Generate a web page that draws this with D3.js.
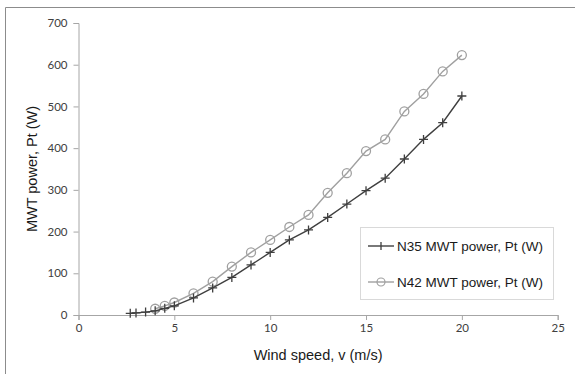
<!DOCTYPE html>
<html>
<head>
<meta charset="utf-8">
<script src="https://cdn.jsdelivr.net/npm/d3@7"></script>
<style>
  body { margin: 0; background: #fff; }
  svg { display: block; }
</style>
</head>
<body>
<div id="chart"></div>
<script>
// wind speed (m/s)
const speedN35 = [2.7, 3, 3.5, 4, 4.5, 5, 6, 7, 8, 9, 10, 11, 12, 13, 14, 15, 16, 17, 18, 19, 20];
const powerN35 = [4, 5, 7, 10, 16, 22, 41, 65, 90, 120, 150, 180, 204, 234, 266, 298, 328, 374, 421, 461, 525];
const speedN42 = [4, 4.5, 5, 6, 7, 8, 9, 10, 11, 12, 13, 14, 15, 16, 17, 18, 19, 20];
const powerN42 = [15, 22, 30, 52, 80, 116, 150, 180, 211, 240, 293, 340, 393, 421, 488, 530, 584, 623];
const xTicks = [0, 5, 10, 15, 20, 25];
const yTicks = [0, 100, 200, 300, 400, 500, 600, 700];
const seriesNames = ['N35 MWT power, Pt (W)', 'N42 MWT power, Pt (W)'];

const width = 575, height = 374;
const margin = {top: 23, right: 17.3, bottom: 59, left: 78.5};

const svg = d3.select('#chart').append('svg')
  .attr('width', width)
  .attr('height', height);

// outer frame (only top/left visible in the picture)
svg.append('path')
  .attr('d', 'M5.5,' + height + 'V7.5H' + width)
  .attr('fill', 'none')
  .attr('stroke', '#8c8c8c')
  .attr('stroke-width', 1);

const x = d3.scaleLinear().domain([0, 25]).range([margin.left, width - margin.right]);
const y = d3.scaleLinear().domain([0, 700]).range([height - margin.bottom, margin.top]);

const xAxis = svg.append('g')
  .attr('transform', 'translate(0,' + y(0) + ')')
  .call(d3.axisBottom(x).tickValues(xTicks).tickSize(5).tickPadding(4));

const yAxis = svg.append('g')
  .attr('transform', 'translate(' + x(0) + ',0)')
  .call(d3.axisLeft(y).tickValues(yTicks).tickSize(5).tickPadding(6));

[xAxis, yAxis].forEach(a => {
  a.selectAll('path, line').attr('stroke', '#a6a6a6');
  a.selectAll('text')
    .attr('fill', '#404040')
    .style('font-family', 'Lato, "Liberation Sans", sans-serif')
    .style('font-size', '11.5px');
});

svg.append('text')
  .attr('x', (x(0) + x(25)) / 2)
  .attr('y', 360)
  .attr('text-anchor', 'middle')
  .attr('fill', '#1a1a1a')
  .style('font-family', '"Liberation Sans", Arial, sans-serif')
  .style('font-size', '14.5px')
  .text('Wind speed, v (m/s)');

svg.append('text')
  .attr('transform', 'translate(37,' + (y(0) + y(700)) / 2 + ') rotate(-90)')
  .attr('text-anchor', 'middle')
  .attr('fill', '#1a1a1a')
  .style('font-family', '"Liberation Sans", Arial, sans-serif')
  .style('font-size', '14.5px')
  .text('MWT power, Pt (W)');

const line = d3.line().x(d => x(d[0])).y(d => y(d[1]));

const n35 = speedN35.map((s, i) => [s, powerN35[i]]);
const n42 = speedN42.map((s, i) => [s, powerN42[i]]);

const darkColor = '#3f3f3f';
const lightColor = '#a0a0a0';

// N42 (circles)
svg.append('path')
  .datum(n42)
  .attr('d', line)
  .attr('fill', 'none')
  .attr('stroke', lightColor)
  .attr('stroke-width', 1.4);

svg.selectAll('.n42')
  .data(n42)
  .enter().append('circle')
  .attr('class', 'n42')
  .attr('cx', d => x(d[0]))
  .attr('cy', d => y(d[1]))
  .attr('r', 4.5)
  .attr('fill', 'none')
  .attr('stroke', lightColor)
  .attr('stroke-width', 1.3);

// N35 (plus)
svg.append('path')
  .datum(n35)
  .attr('d', line)
  .attr('fill', 'none')
  .attr('stroke', darkColor)
  .attr('stroke-width', 1.4);

svg.selectAll('.n35')
  .data(n35)
  .enter().append('path')
  .attr('class', 'n35')
  .attr('transform', d => 'translate(' + x(d[0]) + ',' + y(d[1]) + ')')
  .attr('d', 'M-4.5,0H4.5M0,-4.5V4.5')
  .attr('fill', 'none')
  .attr('stroke', darkColor)
  .attr('stroke-width', 1.3);

// legend
const legend = svg.append('g');
legend.append('rect')
  .attr('x', 360.5).attr('y', 227.5)
  .attr('width', 193).attr('height', 72)
  .attr('fill', '#fff')
  .attr('stroke', '#d9d9d9');

const legendRows = [
  {name: seriesNames[0], color: darkColor, mark: 'plus', yy: 246},
  {name: seriesNames[1], color: lightColor, mark: 'circle', yy: 282}
];
legendRows.forEach(r => {
  legend.append('line')
    .attr('x1', 368).attr('x2', 394)
    .attr('y1', r.yy).attr('y2', r.yy)
    .attr('stroke', r.color).attr('stroke-width', 1.4);
  if (r.mark === 'plus') {
    legend.append('path')
      .attr('d', 'M381,' + (r.yy - 4) + 'V' + (r.yy + 4))
      .attr('stroke', r.color).attr('stroke-width', 1.3);
  } else {
    legend.append('circle')
      .attr('cx', 381).attr('cy', r.yy).attr('r', 4)
      .attr('fill', 'none')
      .attr('stroke', r.color).attr('stroke-width', 1.2);
  }
  legend.append('text')
    .attr('x', 397).attr('y', r.yy + 5)
    .attr('fill', '#1a1a1a')
    .style('font-family', '"Liberation Sans", Arial, sans-serif')
    .style('font-size', '13.5px')
    .text(r.name);
});
</script>
</body>
</html>
